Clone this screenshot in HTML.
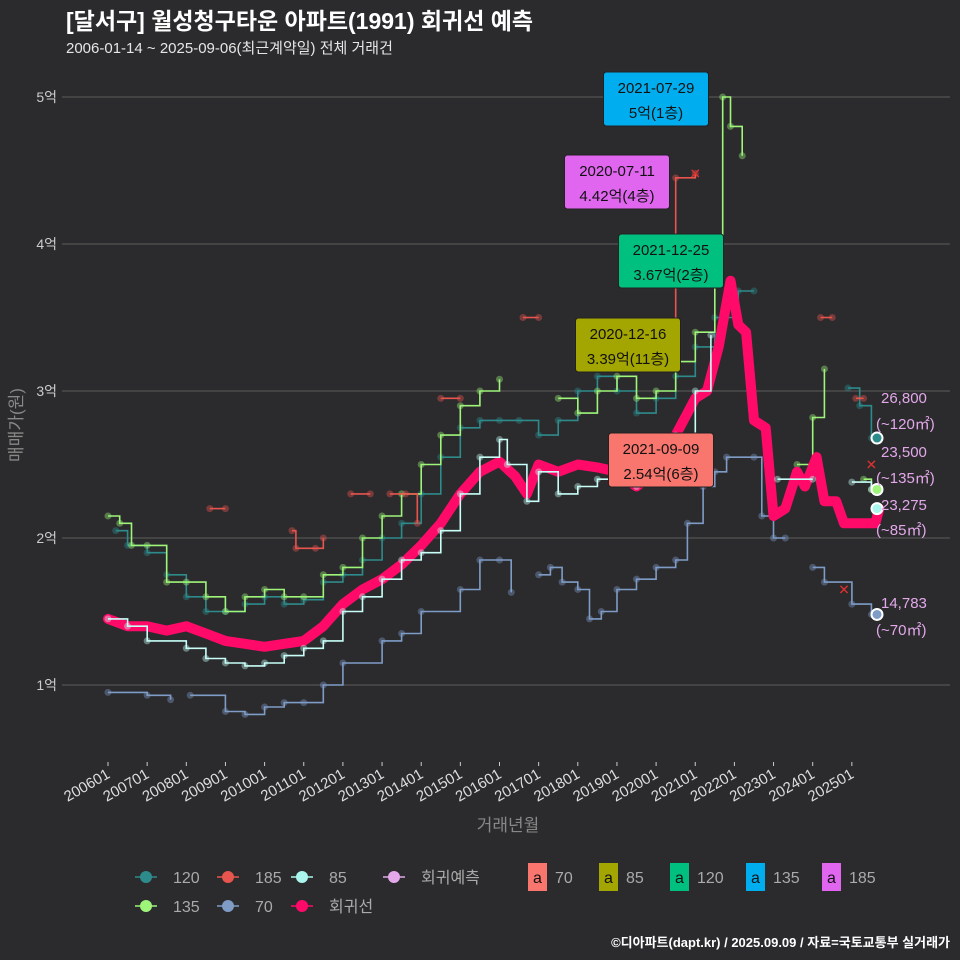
<!DOCTYPE html>
<html><head><meta charset="utf-8">
<style>
html,body{margin:0;padding:0;background:#2b2b2d;}
body{width:960px;height:960px;overflow:hidden;font-family:"Liberation Sans","Noto Sans CJK KR",sans-serif;}
svg{display:block;}
svg text{font-family:"Liberation Sans","Noto Sans CJK KR",sans-serif;}
</style></head>
<body>
<svg id="chart" width="960" height="960" xmlns="http://www.w3.org/2000/svg">
<rect width="960" height="960" fill="#2b2b2d"/>
<text x="66" y="29" fill="#ffffff" font-size="23" font-weight="bold">[달서구] 월성청구타운 아파트(1991) 회귀선 예측</text>
<text x="66" y="53" fill="#e6e6e6" font-size="15">2006-01-14 ~ 2025-09-06(최근계약일) 전체 거래건</text>
<g id="grid"></g>
<g id="marks"></g>
<g id="ann"></g>
<text transform="translate(22,425) rotate(-90)" text-anchor="middle" fill="#888" font-size="17">매매가(원)</text>
<text x="508" y="831" text-anchor="middle" fill="#888" font-size="17">거래년월</text>
<g id="legend"></g>
<text x="950" y="947" text-anchor="end" fill="#ffffff" font-size="13" font-weight="bold">©디아파트(dapt.kr) / 2025.09.09 / 자료=국토교통부 실거래가</text>
</svg>
<script>
const yTicks=[1,2,3,4,5];
const xTickYears=[2006,2007,2008,2009,2010,2011,2012,2013,2014,2015,2016,2017,2018,2019,2020,2021,2022,2023,2024,2025];
const reg=[[2006,1.45],[2006.5,1.4],[2007,1.4],[2007.5,1.37],[2008,1.4],[2008.5,1.35],[2009,1.3],[2009.5,1.28],[2010,1.26],[2010.5,1.28],[2011,1.3],[2011.5,1.4],[2012,1.55],[2012.5,1.65],[2013,1.72],[2013.5,1.82],[2014,1.95],[2014.5,2.1],[2015,2.3],[2015.5,2.45],[2016,2.52],[2016.4,2.42],[2016.7,2.3],[2017,2.5],[2017.5,2.45],[2018,2.5],[2018.5,2.48],[2019,2.45],[2019.5,2.35],[2020,2.45],[2020.5,2.7],[2021,2.95],[2021.3,3.0],[2021.6,3.3],[2021.9,3.75],[2022.1,3.45],[2022.3,3.4],[2022.5,2.8],[2022.8,2.75],[2023,2.15],[2023.3,2.2],[2023.6,2.45],[2023.8,2.35],[2024.1,2.55],[2024.3,2.25],[2024.6,2.25],[2024.8,2.1],[2025.2,2.1],[2025.6,2.1],[2025.7,2.2]];
const s70=[[[2006,0.95],[2007,0.93],[2007.6,0.9]],[[2008.1,0.93],[2009,0.82],[2009.5,0.8],[2010,0.85],[2010.5,0.88],[2011,0.88],[2011.5,1.0],[2012,1.15],[2013,1.3],[2013.5,1.35],[2014,1.5],[2015,1.65],[2015.5,1.85],[2016,1.85],[2016.3,1.63]],[[2017,1.75],[2017.3,1.8],[2017.6,1.7],[2018,1.65],[2018.3,1.45],[2018.6,1.5],[2019,1.65],[2019.5,1.72],[2020,1.8],[2020.5,1.85],[2020.8,2.1],[2021.2,2.35],[2021.5,2.45],[2021.8,2.55],[2022.5,2.55],[2022.7,2.15],[2023,2.0],[2023.3,2.0]],[[2024,1.8],[2024.3,1.7],[2025,1.55],[2025.5,1.48]]];
const s85=[[[2006,1.45],[2006.5,1.4],[2007,1.3],[2008,1.25],[2008.5,1.18],[2009,1.15],[2009.5,1.13],[2010,1.15],[2010.5,1.2],[2011,1.25],[2011.5,1.3],[2012,1.5],[2012.5,1.6],[2013,1.72],[2013.5,1.85],[2014,1.9],[2014.5,2.05],[2015,2.3],[2015.5,2.55],[2016,2.67],[2016.2,2.5],[2016.7,2.25],[2017,2.45],[2017.5,2.3],[2018,2.35],[2018.5,2.4],[2019,2.45],[2019.5,2.35],[2020,2.45],[2020.5,2.7],[2021,3.0],[2021.4,3.38]],[[2023.1,2.4],[2024,2.4]],[[2025,2.38],[2025.5,2.33]]];
const s120=[[[2006.2,2.05],[2006.5,1.95],[2007,1.9],[2007.5,1.75],[2008,1.6],[2008.5,1.5],[2009,1.5],[2009.5,1.55],[2010,1.6],[2010.5,1.55],[2011,1.58],[2011.5,1.7],[2012,1.75],[2012.5,1.85],[2013,2.0],[2013.5,2.1],[2014,2.3],[2014.5,2.55],[2015,2.75],[2015.5,2.8],[2016,2.8],[2016.5,2.8],[2017,2.7],[2017.5,2.8],[2018,3.0],[2018.5,3.1],[2019,3.0],[2019.5,2.85],[2020,2.95],[2020.5,3.1],[2021,3.3],[2021.5,3.5],[2022.1,3.68],[2022.5,3.68]],[[2024.9,3.02],[2025.2,2.9],[2025.5,2.68]]];
const s135=[[[2006,2.15],[2006.3,2.1],[2006.6,1.95],[2007,1.95],[2007.5,1.7],[2008,1.7],[2008.5,1.6],[2009,1.5],[2009.5,1.6],[2010,1.65],[2010.5,1.6],[2011,1.6],[2011.5,1.75],[2012,1.8],[2012.5,2.0],[2013,2.15],[2013.5,2.3],[2014,2.5],[2014.5,2.7],[2015,2.9],[2015.5,3.0],[2016,3.08]],[[2017.5,2.95],[2018,2.85],[2018.5,3.0],[2019,3.1],[2019.5,2.95],[2020,3.0],[2020.5,3.2],[2021,3.4],[2021.5,3.8],[2021.7,5.0],[2021.9,4.8],[2022.2,4.6]],[[2023.6,2.5],[2024,2.82],[2024.3,3.15]],[[2025.3,2.4],[2025.5,2.33]]];
const s185=[[[2008.6,2.2],[2009,2.2]],[[2010.7,2.05],[2010.8,1.93],[2011.3,1.93],[2011.5,2.0]],[[2012.2,2.3],[2012.7,2.3]],[[2013.2,2.3],[2013.6,2.3],[2013.9,2.1]],[[2014.5,2.95],[2015,2.95]],[[2016.6,3.5],[2017,3.5]],[[2020,3.3],[2020.5,4.45],[2021,4.48]],[[2024.2,3.5],[2024.5,3.5]],[[2025.1,2.95],[2025.3,2.95]]];
const crossMarks=[[2021,4.48],[2025.5,2.5],[2024.8,1.65]];
const callouts=[["2021-07-29","5억(1층)",656,99,"#00aeef"],["2020-07-11","4.42억(4층)",617,182,"#e066f0"],["2021-12-25","3.67억(2층)",671,261,"#00c07f"],["2020-12-16","3.39억(11층)",628,345,"#a3a500"],["2021-09-09","2.54억(6층)",661,460,"#f8766d"]];
const endLabels=[["26,800","(~120㎡)",2.68,"#2e8b8b",398,424],["23,500","(~135㎡)",2.33,"#9ef57a",452,478],["23,275","(~85㎡)",2.2,"#aaf5ee",505,530],["14,783","(~70㎡)",1.48,"#7f9cc7",603,630]];

const NS="http://www.w3.org/2000/svg";
const X=y=>108+(y-2006)*39.15;
const Y=v=>685-(v-1)*147;
function el(t,a,p){const e=document.createElementNS(NS,t);for(const k in a)e.setAttribute(k,a[k]);p.appendChild(e);return e;}
const grid=document.getElementById('grid'),marks=document.getElementById('marks'),ann=document.getElementById('ann'),leg=document.getElementById('legend');
yTicks.forEach(v=>{
 const l=el('line',{x1:62,x2:950,y1:Y(v),y2:Y(v),stroke:'#5c5c5c','stroke-width':1},grid);
 
 const t=el('text',{x:57,y:Y(v)+5,'text-anchor':'end',fill:'#ccc','font-size':14},grid);t.textContent=v+'억';
 
});
xTickYears.forEach(yr=>{
 const x=X(yr);
 const tk=el('line',{x1:x,x2:x,y1:762,y2:766,stroke:'#ccc'},grid);
 
 const t=el('text',{x:x+3,y:777,'text-anchor':'end',fill:'#ddd','font-size':15,transform:`rotate(-30 ${x+3} 777)`},grid);t.textContent=yr+'01';
 
});
function path(pts){return pts.map((p,i)=>(i?'L':'M')+X(p[0]).toFixed(1)+','+Y(p[1]).toFixed(1)).join('');}
function stepPath(pts){return pts.map((p,i)=>i?('H'+X(p[0]).toFixed(1)+'V'+Y(p[1]).toFixed(1)):('M'+X(p[0]).toFixed(1)+','+Y(p[1]).toFixed(1))).join('');}
function series(segs,color,name){
 segs.forEach(seg=>{
  seg.forEach(p=>{const c=el('circle',{cx:X(p[0]),cy:Y(p[1]),r:3.5,fill:color,opacity:0.4},marks);
   });
  const pa=el('path',{d:stepPath(seg),fill:'none',stroke:color,'stroke-width':1.6},marks);
  
 });
}
series(s70,'#7f9cc7','series-70');
series(s120,'#2e8b8b','series-120');
series(s135,'#9ef57a','series-135');
series(s185,'#e8544e','series-185');
const rp=el('path',{d:path(reg),fill:'none',stroke:'#ff0a68','stroke-width':10,'stroke-linejoin':'round','stroke-linecap':'round'},marks);

series(s85,'#c8fff8','series-85');
crossMarks.forEach(p=>{const t=el('text',{x:X(p[0]),y:Y(p[1])+5,'text-anchor':'middle',fill:'#e03030','font-size':14},marks);t.textContent='✕';
 });
callouts.forEach(c=>{
 const g=el('g',{},ann);
 const w=Math.max(c[0].length,c[1].length)*9.5+10;
 el('rect',{x:c[2]-w/2,y:c[3]-27,width:w,height:54,rx:3,fill:c[4],stroke:'#222'},g);
 const a=el('text',{x:c[2],y:c[3]-6,'text-anchor':'middle','font-size':15,fill:'#111'},g);a.textContent=c[0];
 const b=el('text',{x:c[2],y:c[3]+19,'text-anchor':'middle','font-size':15,fill:'#111'},g);b.textContent=c[1];
});
endLabels.forEach(e=>{
 const c=el('circle',{cx:877,cy:Y(e[2]),r:5.5,fill:e[3],stroke:'#fff','stroke-width':2},ann);
 
 const a=el('text',{x:881,y:e[4]+5,'font-size':15,fill:'#e3a8ea'},ann);a.textContent=e[0];
 
 const b=el('text',{x:876,y:e[5]+5,'font-size':15,fill:'#e3a8ea'},ann);b.textContent=e[1];
 
});
const legLines=[['120','#2e8b8b',146,877],['185','#e8544e',228,877],['85','#aaf5ee',302,877],['회귀예측','#e3a8ea',394,877],['135','#9ef57a',146,906],['70','#7f9cc7',228,906],['회귀선','#ff0a68',302,906]];
legLines.forEach(l=>{
 const g=el('g',{},leg);
 el('line',{x1:l[2]-11,x2:l[2]+11,y1:l[3],y2:l[3],stroke:l[1],'stroke-width':1.5},g);
 el('circle',{cx:l[2],cy:l[3],r:6,fill:l[1]},g);
 const t=el('text',{x:l[2]+27,y:l[3]+6,'font-size':16,fill:'#aaa'},g);t.textContent=l[0];
});
const legBoxes=[['70','#f8766d',528],['85','#a3a500',599],['120','#00c07f',670],['135','#00aeef',746],['185','#e066f0',822]];
legBoxes.forEach(b=>{
 const g=el('g',{},leg);
 el('rect',{x:b[2],y:863,width:19,height:28,fill:b[1]},g);
 const a=el('text',{x:b[2]+9.5,y:883,'text-anchor':'middle','font-size':16,fill:'#111'},g);a.textContent='a';
 const t=el('text',{x:b[2]+27,y:883,'font-size':16,fill:'#aaa'},g);t.textContent=b[0];
});
</script>
</body></html>
